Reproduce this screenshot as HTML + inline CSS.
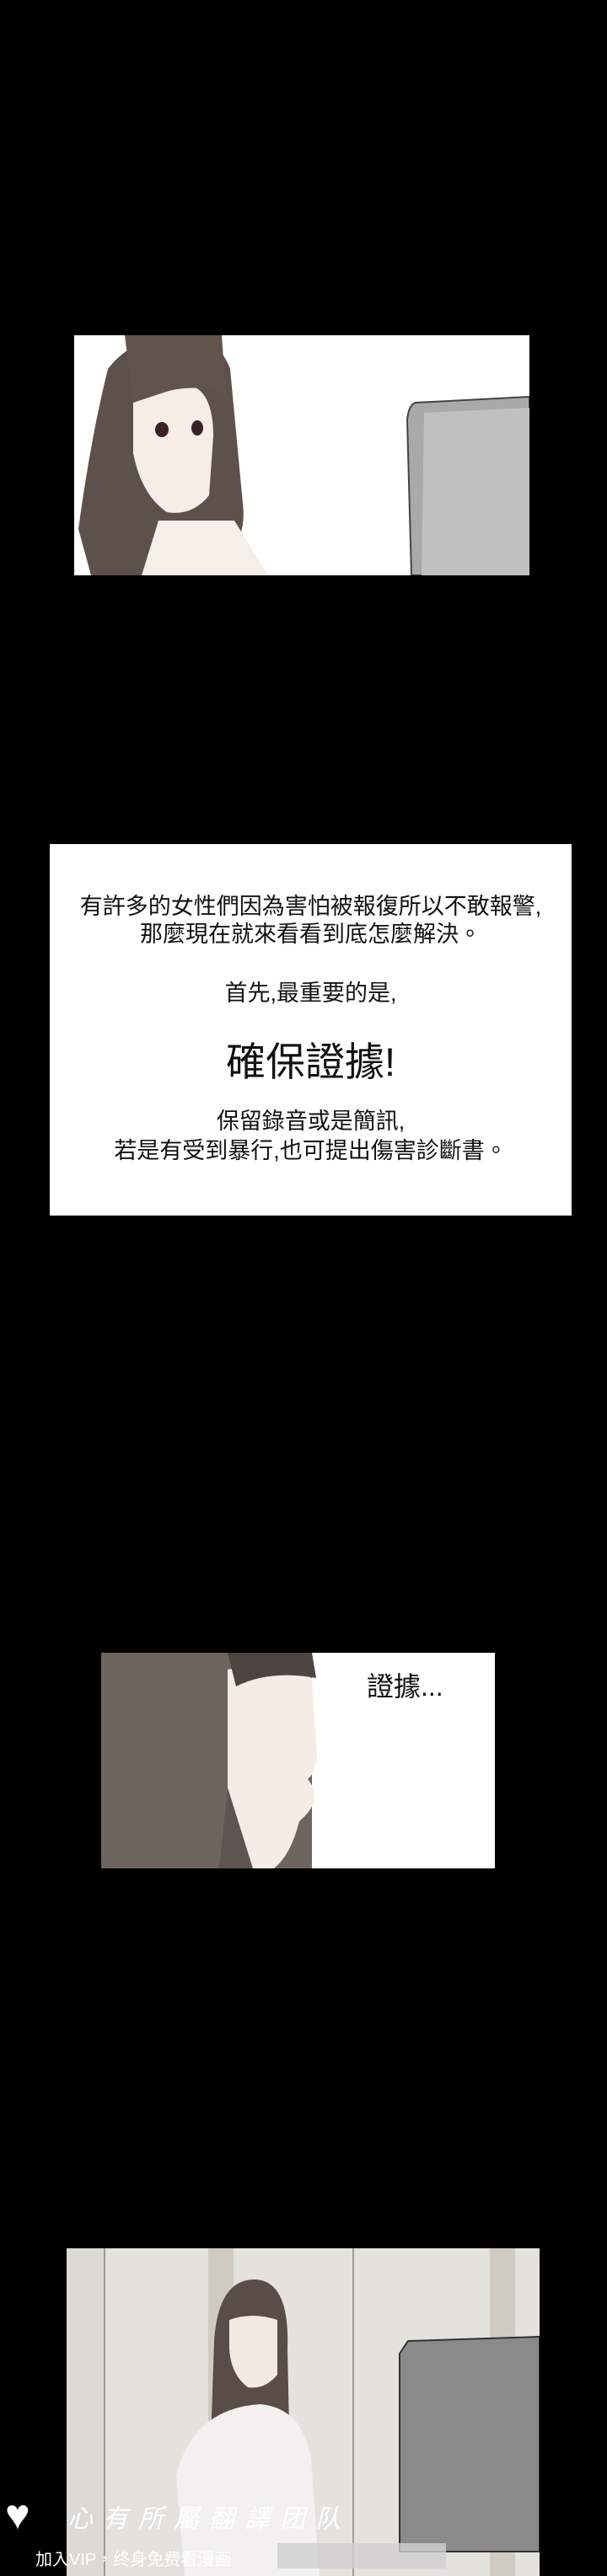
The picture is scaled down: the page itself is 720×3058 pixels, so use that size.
<!DOCTYPE html>
<html><head><meta charset="utf-8"><style>
body{margin:0;background:#000;width:720px;height:3058px;position:relative;overflow:hidden;font-family:"Liberation Sans","Noto Sans CJK TC",sans-serif}
.p{position:absolute;overflow:hidden}
.t{position:absolute;left:0;width:100%;text-align:center;color:#111;white-space:nowrap}
</style></head><body>
<div class="p" style="left:88px;top:398px;width:540px;height:285px;background:#fff">
<svg width="540" height="285">
<path d="M20 285 L5 230 Q20 120 40 40 Q70 0 130 0 Q170 0 185 40 L200 200 Q205 240 180 260 L180 285 Z" fill="#5e514b"/>
<path d="M70 80 Q90 60 140 60 Q165 70 165 120 L160 190 Q140 215 110 210 Q80 190 70 140 Z" fill="#f7ece6"/>
<path d="M60 0 L175 0 L180 70 Q140 55 100 70 L70 80 Z" fill="#62544d"/>
<ellipse cx="104" cy="112" rx="8" ry="9" fill="#3a2128"/><ellipse cx="146" cy="110" rx="7" ry="9" fill="#3a2128"/>
<path d="M100 220 L190 220 L230 285 L80 285 Z" fill="#f5eee9"/>
<path d="M405 80 L540 73 L540 285 L400 285 L395 100 Q397 82 405 80 Z" fill="#a9a9a9" stroke="#444" stroke-width="2"/>
<path d="M415 92 L540 86 L540 285 L412 285 Z" fill="#c0c0c0"/>
</svg></div>

<div class="p" style="left:59px;top:1002px;width:619px;height:441px;background:#fff">
<div class="t" style="top:52px;font-size:27px">有許多的女性們因為害怕被報復所以不敢報警,</div>
<div class="t" style="top:85px;font-size:27px">那麼現在就來看看到底怎麼解決。</div>
<div class="t" style="top:155px;font-size:27px">首先,最重要的是,</div>
<div class="t" style="top:220px;font-size:47px">確保證據!</div>
<div class="t" style="top:307px;font-size:27px">保留錄音或是簡訊,</div>
<div class="t" style="top:342px;font-size:27px">若是有受到暴行,也可提出傷害診斷書。</div>
</div>

<div class="p" style="left:120px;top:1962px;width:467px;height:256px;background:#fff">
<svg width="467" height="256">
<rect x="0" y="0" width="250" height="256" fill="#6e6460"/>
<path d="M150 20 Q200 10 250 30 L255 110 Q258 140 245 150 Q265 175 235 200 Q225 240 205 256 L150 256 Z" fill="#f6ebe6"/>
<path d="M150 0 L250 0 L255 30 Q200 20 160 40 Z" fill="#4e4441"/>
<path d="M180 256 L140 256 L150 160 Z" fill="#5e5451"/>
</svg>
<div style="position:absolute;left:315px;top:15px;font-size:32px;color:#111;white-space:nowrap">證據...</div>
</div>

<div class="p" style="left:79px;top:2669px;width:561px;height:389px;background:#e4e2dd">
<svg width="561" height="389">
<rect x="0" y="0" width="45" height="389" fill="#dcdad4"/>
<line x1="45" y1="0" x2="45" y2="389" stroke="#555"/>
<rect x="168" y="0" width="30" height="389" fill="#cfcbc1"/>
<line x1="340" y1="0" x2="340" y2="389" stroke="#555"/>
<rect x="502" y="0" width="30" height="389" fill="#cfcbc1"/>
<path d="M175 110 Q180 35 225 37 Q265 40 262 120 L265 260 L170 260 Z" fill="#5a4d49"/>
<path d="M193 85 Q220 75 250 85 L250 150 Q235 168 215 165 Q195 150 193 120 Z" fill="#f4e8e2"/>
<path d="M130 270 Q150 190 230 185 Q280 190 290 250 L300 389 L140 389 Z" fill="#f2f1ef"/>
<path d="M405 110 L561 105 L561 360 L395 360 L395 125 Z" fill="#8a8a8a" stroke="#333" stroke-width="2"/>
<rect x="250" y="350" width="200" height="30" fill="#cfcfcf" opacity="0.8"/>
</svg>
</div>
<div style="position:absolute;left:6px;top:2960px;font-size:50px;color:#fff;line-height:1">♥</div>
<div style="position:absolute;left:80px;top:2965px;font-size:30px;color:#fff;font-style:italic;white-space:nowrap;letter-spacing:12px">心有所屬翻譯团队</div>
<div style="position:absolute;left:42px;top:3022px;font-size:20px;color:#fff;white-space:nowrap">加入VIP，终身免费看漫画</div>
</body></html>
